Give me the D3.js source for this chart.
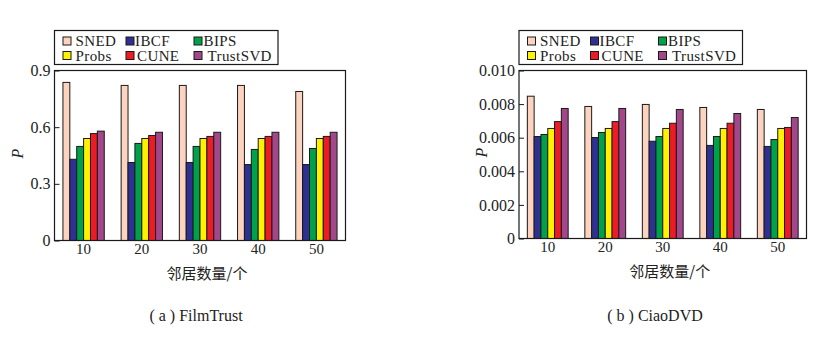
<!DOCTYPE html>
<html>
<head>
<meta charset="utf-8">
<script src="https://d3js.org/d3.v7.min.js"></script>
<style>
    body { margin: 0; background: #fff; }
    svg text { font-family: 'Liberation Serif', 'DejaVu Serif', serif; fill: #222; }
</style>
</head>
<body>
<div id="chart"></div>
<script>
    // neighbour counts on the x axis
    var groups = ["10", "20", "30", "40", "50"];
    var methods = ["SNED", "IBCF", "BIPS", "Probs", "CUNE", "TrustSVD"];
    var colors = ["#fcd3bf", "#2e3192", "#00a14b", "#fff200", "#ed1c24", "#a1478a"];

    // precision P, one array per method, FilmTrust
    var filmSNED     = [0.837, 0.821, 0.821, 0.821, 0.789];
    var filmIBCF     = [0.430, 0.413, 0.413, 0.402, 0.402];
    var filmBIPS     = [0.498, 0.514, 0.498, 0.482, 0.487];
    var filmProbs    = [0.540, 0.540, 0.540, 0.540, 0.540];
    var filmCUNE     = [0.566, 0.556, 0.551, 0.551, 0.551];
    var filmTrustSVD = [0.579, 0.573, 0.573, 0.573, 0.573];

    // precision P, CiaoDVD
    var ciaoSNED     = [0.00847, 0.00786, 0.00798, 0.00780, 0.00768];
    var ciaoIBCF     = [0.00607, 0.00601, 0.00579, 0.00554, 0.00548];
    var ciaoBIPS     = [0.00619, 0.00631, 0.00607, 0.00607, 0.00589];
    var ciaoProbs    = [0.00655, 0.00655, 0.00655, 0.00655, 0.00655];
    var ciaoCUNE     = [0.00696, 0.00696, 0.00686, 0.00686, 0.00661];
    var ciaoTrustSVD = [0.00774, 0.00774, 0.00768, 0.00744, 0.00720];

    var filmTicks = [0, 0.3, 0.6, 0.9];
    var ciaoTicks = [0, 0.002, 0.004, 0.006, 0.008, 0.010];

    var width = 830, height = 344;

    var svg = d3.select("#chart")
        .append("svg")
        .attr("width", width)
        .attr("height", height);

    function drawPanel(opt) {
        var w = opt.w, h = opt.h;
        var g = svg.append("g").attr("transform", "translate(" + opt.left + "," + opt.top + ")");

        var x0 = d3.scaleBand().domain(groups).range([0, w]).paddingInner(0.29).paddingOuter(0.145);
        var x1 = d3.scaleBand().domain(methods).range([0, x0.bandwidth()]);
        var y = d3.scaleLinear().domain(opt.domain).range([h, 0]);

        // bars
        var rows = groups.map(function(k, i) {
            return { key: k, vals: opt.series.map(function(s) { return s[i]; }) };
        });
        g.selectAll("g.grp")
            .data(rows)
            .enter()
            .append("g")
            .attr("class", "grp")
            .attr("transform", function(d) { return "translate(" + x0(d.key) + ",0)"; })
            .selectAll("rect")
            .data(function(d) { return d.vals; })
            .enter()
            .append("rect")
            .attr("x", function(d, i) { return x1(methods[i]); })
            .attr("y", function(d) { return y(d); })
            .attr("width", x1.bandwidth())
            .attr("height", function(d) { return h - y(d); })
            .attr("fill", function(d, i) { return colors[i]; })
            .attr("stroke", "#1a1a1a")
            .attr("stroke-width", 1);

        // frame
        g.append("rect")
            .attr("width", w).attr("height", h)
            .attr("fill", "none").attr("stroke", "#1a1a1a").attr("stroke-width", 1.2);

        // y axis, ticks pointing inward
        var ya = g.append("g")
            .call(d3.axisLeft(y).tickValues(opt.ticks).tickFormat(opt.fmt).tickSizeInner(-5).tickSizeOuter(0).tickPadding(4));
        ya.select(".domain").remove();
        ya.selectAll("line").attr("stroke", "#1a1a1a");
        ya.selectAll("text").attr("font-size", 16).attr("fill", "#333");

        // x axis labels only
        var xa = g.append("g")
            .attr("transform", "translate(0," + h + ")")
            .call(d3.axisBottom(x0).tickSize(0).tickPadding(3));
        xa.select(".domain").remove();
        xa.selectAll("text").attr("font-size", 15).attr("fill", "#333");

        // axis titles
        g.append("text")
            .attr("transform", "translate(" + (-32) + "," + (h / 2 - 2) + ") rotate(-90)")
            .attr("text-anchor", "middle")
            .attr("font-style", "italic")
            .attr("font-size", 16)
            .text("P");

        g.append("text")
            .attr("x", w / 2 + 7)
            .attr("y", h + 38)
            .attr("text-anchor", "middle")
            .attr("font-size", 15)
            .attr("fill", "#555")
            .style("font-family", "'Noto Sans CJK SC', sans-serif")
            .text("邻居数量/个");

        // legend
        var lg = svg.append("g").attr("transform", "translate(" + opt.left + ",30.5)");
        lg.append("rect")
            .attr("width", 223.5).attr("height", 34)
            .attr("fill", "#fff").attr("stroke", "#1a1a1a").attr("stroke-width", 1.2);
        var colX = [8.5, 71.5, 139.5];
        var txtX = [21, 80.5, 149];
        methods.forEach(function(m, i) {
            var c = i % 3, r = Math.floor(i / 3);
            var cy = 10.5 + r * 14.5;
            lg.append("rect")
                .attr("x", colX[c]).attr("y", cy - 4)
                .attr("width", 8).attr("height", 8)
                .attr("fill", colors[i]).attr("stroke", "#1a1a1a").attr("stroke-width", 1);
            lg.append("text")
                .attr("x", txtX[c] + (i == 4 ? 2 : 0) + (i == 5 ? 4 : 0))
                .attr("y", cy + 5)
                .attr("font-size", 15)
                .attr("letter-spacing", 0.4)
                .text(m);
        });

        // caption
        svg.append("text")
            .attr("x", opt.capX)
            .attr("y", 321)
            .attr("text-anchor", "middle")
            .attr("font-size", 16)
            .attr("fill", "#333")
            .text(opt.caption);
    }

    drawPanel({
        left: 54.5, top: 70.5, w: 291, h: 170,
        domain: [0, 0.9], ticks: filmTicks,
        fmt: function(d) { return d === 0 ? "0" : d3.format(".1f")(d); },
        series: [filmSNED, filmIBCF, filmBIPS, filmProbs, filmCUNE, filmTrustSVD],
        caption: "( a ) FilmTrust", capX: 196
    });

    drawPanel({
        left: 519, top: 70.5, w: 287.5, h: 168,
        domain: [0, 0.010], ticks: ciaoTicks,
        fmt: function(d) { return d === 0 ? "0" : d3.format(".3f")(d); },
        series: [ciaoSNED, ciaoIBCF, ciaoBIPS, ciaoProbs, ciaoCUNE, ciaoTrustSVD],
        caption: "( b ) CiaoDVD", capX: 655
    });
</script>
</body>
</html>
